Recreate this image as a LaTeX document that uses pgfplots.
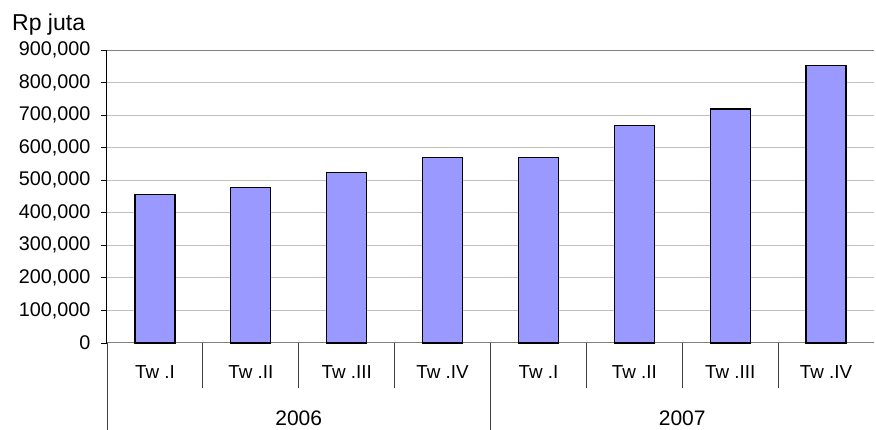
\documentclass[border=0pt]{standalone}
\usepackage{pgfplots}
\pgfplotsset{compat=1.18}
\usepackage{fontspec}
\setmainfont{Liberation Sans}
\definecolor{barblue}{HTML}{9999FF}
\definecolor{gridgray}{HTML}{C0C0C0}
\definecolor{axisgray}{HTML}{808080}
\begin{document}
\begin{tikzpicture}[x=1pt,y=1pt]
\useasboundingbox (0,0) rectangle (876,430);
\node[anchor=base west, font=\fontsize{23}{26}\selectfont, inner sep=0] at (12,399) {Rp juta};
\begin{axis}[
  at={(107pt,87pt)}, anchor=south west,
  scale only axis, width=767pt, height=293pt,
  xmin=0.5, xmax=8.5, ymin=0, ymax=900000,
  clip=false,
  axis x line*=bottom, axis y line*=left,
  x axis line style={-, axisgray, line width=1pt},
  y axis line style={-, black, line width=1pt},
  ytick={0,100000,200000,300000,400000,500000,600000,700000,800000,900000},
  scaled y ticks=false,
  /pgf/number format/fixed,
  /pgf/number format/1000 sep={,},
  /pgf/number format/assume math mode=true,
  yticklabel style={font=\fontsize{19.8}{22}\selectfont, anchor=east, xshift=-7pt},
  ytick style={black, line width=0.8pt},
  tick align=outside, major tick length=6pt,
  ymajorgrids, grid style={gridgray, line width=1pt},
  xtick={1,2,3,4,5,6,7,8},
  xticklabels={Tw .I, Tw .II, Tw .III, Tw .IV, Tw .I, Tw .II, Tw .III, Tw .IV},
  xtick style={draw=none},
  xticklabel style={font=\fontsize{18.8}{22}\selectfont, anchor=center, yshift=-23pt},
]
\addplot[ybar, bar width=40pt, fill=barblue, draw=black, line width=1.2pt]
  coordinates {(1,457000) (2,478000) (3,524000) (4,571000) (5,570000) (6,668000) (7,719000) (8,852000)};
\draw[axisgray, line width=1pt] (axis cs:0.5,900000) -- (axis cs:8.5,900000);
\draw[black!75, line width=0.8pt] (axis cs:1.5,0) -- ([yshift=-45pt]axis cs:1.5,0);
\draw[black!75, line width=0.8pt] (axis cs:2.5,0) -- ([yshift=-45pt]axis cs:2.5,0);
\draw[black!75, line width=0.8pt] (axis cs:3.5,0) -- ([yshift=-45pt]axis cs:3.5,0);
\draw[black!75, line width=0.8pt] (axis cs:5.5,0) -- ([yshift=-45pt]axis cs:5.5,0);
\draw[black!75, line width=0.8pt] (axis cs:6.5,0) -- ([yshift=-45pt]axis cs:6.5,0);
\draw[black!75, line width=0.8pt] (axis cs:7.5,0) -- ([yshift=-45pt]axis cs:7.5,0);
\draw[black!75, line width=0.8pt] (axis cs:0.5,0) -- ([yshift=-87pt]axis cs:0.5,0);
\draw[black!75, line width=0.8pt] (axis cs:4.5,0) -- ([yshift=-87pt]axis cs:4.5,0);
\node[font=\fontsize{21}{24}\selectfont] at (axis cs:2.5,0) [yshift=-75pt] {2006};
\node[font=\fontsize{21}{24}\selectfont] at (axis cs:6.5,0) [yshift=-75pt] {2007};
\end{axis}
\end{tikzpicture}
\end{document}
